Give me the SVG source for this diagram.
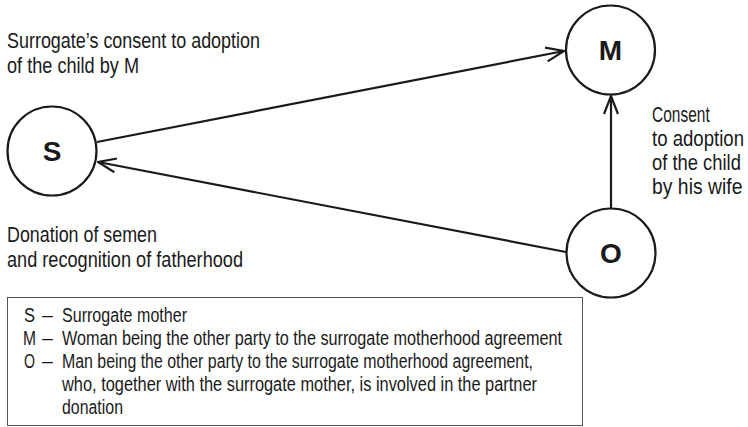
<svg xmlns="http://www.w3.org/2000/svg" width="748" height="427" viewBox="0 0 748 427">
<defs>
<style>
.node{fill:#fff;stroke:#1a1a1a;stroke-width:2.2}
.nl{font-family:"Liberation Sans",Arial,sans-serif;font-weight:bold;font-size:28px;fill:#1a1a1a;text-anchor:middle}
.lab{font-family:"Liberation Sans",Arial,sans-serif;font-size:22px;fill:#1a1a1a}
.leg{font-family:"Liberation Sans",Arial,sans-serif;font-size:19.5px;fill:#1a1a1a}
.edge{fill:none;stroke:#1a1a1a;stroke-width:2.2}
</style>
<marker id="arr" viewBox="0 0 20 16" refX="19" refY="8" markerWidth="20" markerHeight="16" markerUnits="userSpaceOnUse" orient="auto">
<path d="M1,1 L19,8 L1,15" fill="none" stroke="#1a1a1a" stroke-width="2.2"/>
</marker>
</defs>
<rect width="748" height="427" fill="#fff"/>
<g id="connectors">
<line class="edge" x1="97" y1="142" x2="564" y2="51" marker-end="url(#arr)"/>
<line class="edge" x1="566" y1="252" x2="98" y2="162" marker-end="url(#arr)"/>
<line class="edge" x1="611" y1="208" x2="611" y2="96" marker-end="url(#arr)"/>
</g>
<g id="node-S">
<circle class="node" cx="52" cy="151" r="44.5"/>
<text class="nl" x="52" y="161">S</text>
</g>
<g id="node-M">
<circle class="node" cx="610.5" cy="50" r="44.5"/>
<text class="nl" x="610.5" y="60">M</text>
</g>
<g id="node-O">
<circle class="node" cx="611" cy="253" r="44.5"/>
<text class="nl" x="611" y="263">O</text>
</g>
<g id="labels">
<text class="lab" x="7" y="48" textLength="253" lengthAdjust="spacingAndGlyphs">Surrogate’s consent to adoption</text>
<text class="lab" x="7" y="73" textLength="132" lengthAdjust="spacingAndGlyphs">of the child by M</text>
<g transform="translate(652,0) scale(0.78,1)">
<text class="lab" x="0" y="122" textLength="74" lengthAdjust="spacingAndGlyphs">Consent</text>
<text class="lab" x="0" y="146" textLength="118" lengthAdjust="spacingAndGlyphs">to adoption</text>
<text class="lab" x="0" y="170" textLength="114" lengthAdjust="spacingAndGlyphs">of the child</text>
<text class="lab" x="0" y="194" textLength="116" lengthAdjust="spacingAndGlyphs">by his wife</text>
</g>
<text class="lab" x="7" y="242" textLength="150" lengthAdjust="spacingAndGlyphs">Donation of semen</text>
<text class="lab" x="7" y="267" textLength="236" lengthAdjust="spacingAndGlyphs">and recognition of fatherhood</text>
</g>
<g id="legend">
<rect x="7.5" y="297.5" width="575" height="128" fill="none" stroke="#555" stroke-width="1"/>
<text class="leg" x="24" y="322" textLength="11" lengthAdjust="spacingAndGlyphs">S</text><text class="leg" x="42" y="322">–</text>
<text class="leg" x="62" y="322" textLength="125" lengthAdjust="spacingAndGlyphs">Surrogate mother</text>
<text class="leg" x="23" y="345" textLength="13" lengthAdjust="spacingAndGlyphs">M</text><text class="leg" x="42" y="345">–</text>
<text class="leg" x="62" y="345" textLength="500" lengthAdjust="spacingAndGlyphs">Woman being the other party to the surrogate motherhood agreement</text>
<text class="leg" x="24" y="368" textLength="11" lengthAdjust="spacingAndGlyphs">O</text><text class="leg" x="42" y="368">–</text>
<text class="leg" x="62" y="368" textLength="471" lengthAdjust="spacingAndGlyphs">Man being the other party to the surrogate motherhood agreement,</text>
<text class="leg" x="62" y="391" textLength="475" lengthAdjust="spacingAndGlyphs">who, together with the surrogate mother, is involved in the partner</text>
<text class="leg" x="62" y="414" textLength="61" lengthAdjust="spacingAndGlyphs">donation</text>
</g>
</svg>
